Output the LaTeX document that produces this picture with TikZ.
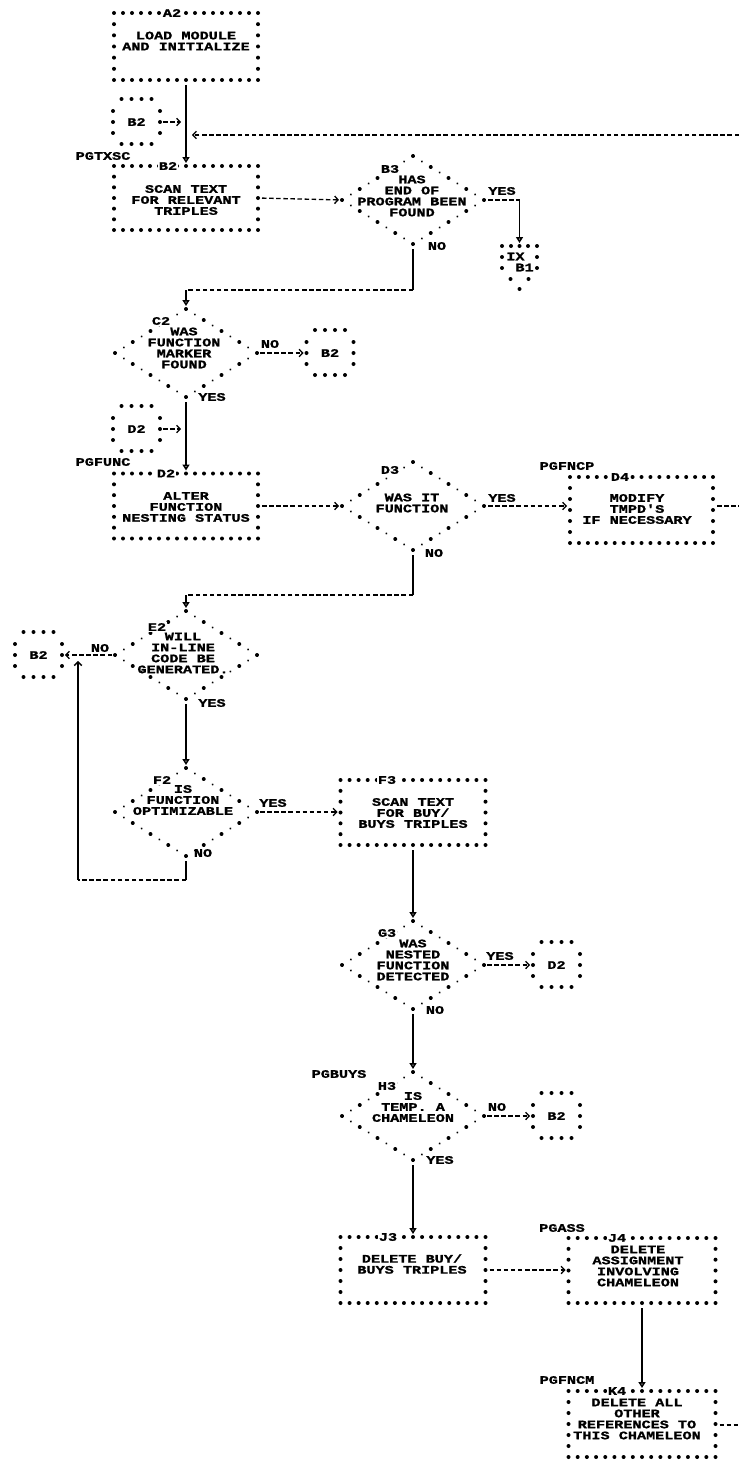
\documentclass[tikz,border=0pt]{standalone}
\usepackage{fontspec}
\newfontfamily\ibm[FakeStretch=1.32,BoldFeatures={FakeBold=1.3}]{Liberation Mono}
\usetikzlibrary{arrows.meta,shapes.geometric,decorations.markings}
\newcommand\dotbox[1]{%
 \path[bdots=0.0625] (#1.north west) -- (#1.north east);
 \path[bdots=0.16667] (#1.north east) -- (#1.south east);
 \path[bdots=0.0625] (#1.south east) -- (#1.south west);
 \path[bdots=0.16667] (#1.south west) -- (#1.north west);}
\newcommand\dotdiam[1]{%
 \path[ddots] (#1.north) -- (#1.east);
 \path[ddots] (#1.east) -- (#1.south);
 \path[ddots] (#1.south) -- (#1.west);
 \path[ddots] (#1.west) -- (#1.north);}
\newcommand\connbox[4]{%
 \node[conn] (#1) at (#2,#3) {#4};
 \foreach \dx in {-15,-5,5,15}{\fill (#1) ++(\dx,-23) circle (2pt); \fill (#1) ++(\dx,22) circle (2pt);}
 \foreach \dy in {-11,0,11}{\fill (#1) ++(-23.5,\dy) circle (2pt); \fill (#1) ++(23.5,\dy) circle (2pt);}}
\begin{document}
\begin{tikzpicture}[x=1pt,y=-1pt,
 txt/.style={font=\ibm\bfseries\fontsize{11.5}{11}\selectfont,align=center,inner sep=0pt},
 idl/.style={txt,fill=white,inner sep=1pt},
 didl/.style={txt,fill=white,inner sep=0.8pt},
 boxn/.style={rectangle,inner sep=0pt,outer sep=0pt,draw=none},
 dec/.style={diamond,inner sep=0pt,outer sep=0pt,minimum width=142pt,minimum height=88pt,draw=none},
 conn/.style={txt,circle,minimum size=47pt,inner sep=0pt,outer sep=0pt},
 sl/.style={line width=1.5pt},
 dl/.style={line width=1.3pt,dash pattern=on 4.5pt off 2.6pt},
 tipv/.style={-{Triangle[open,length=6pt,width=7pt]}},
 tipb/.style={-{Straight Barb[length=3.5pt,width=7.5pt]}},
 bdots/.style={decorate,decoration={markings,mark=between positions 0 and 0.99 step #1 with {\fill circle (2pt);}}},
 ddots/.style={decorate,decoration={markings,
   mark=between positions 0 and 0.99 step 0.25 with {\fill circle (2pt);},
   mark=between positions 0.125 and 0.99 step 0.25 with {\fill circle (1.1pt);}}}
]
\useasboundingbox (0,0) rectangle (739,1461);

% ---------- A2
\node[boxn,minimum width=144pt,minimum height=67pt] (A2) at (186,46.5) {};
\dotbox{A2}
\node[idl] (A2id) at (172,13) {A2};
\node[txt] (A2t) at (186,41) {LOAD MODULE\\AND INITIALIZE};

% ---------- B2 connector and box
\connbox{cB2a}{136.5}{122}{B2}
\node[txt] (pgtxsc) at (103,156) {PGTXSC};
\node[boxn,minimum width=144pt,minimum height=64pt] (B2) at (186,198) {};
\dotbox{B2}
\node[idl] (B2id) at (168,166) {B2};
\node[txt] (B2t) at (186,200) {SCAN TEXT\\FOR RELEVANT\\TRIPLES};

% ---------- B3
\node[dec] (B3) at (413,200) {};
\dotdiam{B3}
\node[didl] (B3id) at (390,169) {B3};
\node[txt] (B3t) at (412,196) {HAS\\END OF\\PROGRAM BEEN\\FOUND};
\node[txt] (B3y) at (502,191) {YES};
\node[txt] (B3n) at (437,246) {NO};

% ---------- IX B1 off-page connector
\node[boxn,minimum width=35pt,minimum height=43pt] (IX) at (519.5,267.5) {};
\foreach \xx in {502,511,519.5,528,537} \fill (\xx,246) circle (2pt);
\foreach \yy in {257,268} {\fill (502,\yy) circle (2pt); \fill (537,\yy) circle (2pt);}
\fill (510.5,279) circle (2pt); \fill (528.5,279) circle (2pt); \fill (519.5,289) circle (2pt);
\node[txt,align=left] (IXt) at (520,262) {IX\\\phantom{I}B1};

% ---------- C2
\node[dec] (C2) at (186,353) {};
\dotdiam{C2}
\node[didl] (C2id) at (161,321) {C2};
\node[txt] (C2t) at (184,348) {WAS\\FUNCTION\\MARKER\\FOUND};
\node[txt] (C2n) at (270,344) {NO};
\node[txt] (C2y) at (212,397) {YES};
\connbox{cB2b}{330}{353}{B2}

% ---------- D2
\connbox{cD2a}{136.5}{429}{D2}
\node[txt] (pgfunc) at (103,462) {PGFUNC};
\node[boxn,minimum width=144pt,minimum height=65pt] (D2) at (186,506) {};
\dotbox{D2}
\node[idl] (D2id) at (166,473.5) {D2};
\node[txt] (D2t) at (186,507) {ALTER\\FUNCTION\\NESTING STATUS};

% ---------- D3
\node[dec] (D3) at (413,506) {};
\dotdiam{D3}
\node[didl] (D3id) at (390,470) {D3};
\node[txt] (D3t) at (412,503) {WAS IT\\FUNCTION};
\node[txt] (D3y) at (502,498) {YES};
\node[txt] (D3n) at (434,553) {NO};

% ---------- D4
\node[txt] (pgfncp) at (567,466) {PGFNCP};
\node[boxn,minimum width=143pt,minimum height=66pt] (D4) at (641.5,510) {};
\dotbox{D4}
\node[idl] (D4id) at (620,477) {D4};
\node[txt] (D4t) at (637,509) {MODIFY\\TMPD'S\\IF NECESSARY};

% ---------- E2
\node[dec] (E2) at (186,655) {};
\dotdiam{E2}
\node[didl] (E2id) at (157,627) {E2};
\node[txt] (E2t) at (183,653) {WILL\\IN-LINE\\CODE BE\\GENERATED.};
\node[txt] (E2n) at (100,648) {NO};
\node[txt] (E2y) at (212,703) {YES};
\connbox{cB2c}{38.5}{655}{B2}

% ---------- F2
\node[dec] (F2) at (186,812) {};
\dotdiam{F2}
\node[didl] (F2id) at (162,780) {F2};
\node[txt] (F2t) at (183,800) {IS\\FUNCTION\\OPTIMIZABLE};
\node[txt] (F2y) at (273,803) {YES};
\node[txt] (F2n) at (203,853) {NO};

% ---------- F3
\node[boxn,minimum width=145pt,minimum height=65pt] (F3) at (413,812.5) {};
\dotbox{F3}
\node[idl] (F3id) at (387,780) {F3};
\node[txt] (F3t) at (413,813) {SCAN TEXT\\FOR BUY/\\BUYS TRIPLES};

% ---------- G3
\node[dec] (G3) at (413,965) {};
\dotdiam{G3}
\node[didl] (G3id) at (387,933) {G3};
\node[txt] (G3t) at (413,960) {WAS\\NESTED\\FUNCTION\\DETECTED};
\node[txt] (G3y) at (500,956) {YES};
\node[txt] (G3n) at (435,1010) {NO};
\connbox{cD2b}{556.5}{965}{D2}

% ---------- H3
\node[txt] (pgbuys) at (339,1074) {PGBUYS};
\node[dec] (H3) at (413,1116) {};
\dotdiam{H3}
\node[didl] (H3id) at (387,1086) {H3};
\node[txt] (H3t) at (413,1107) {IS\\TEMP. A\\CHAMELEON};
\node[txt] (H3n) at (497,1107) {NO};
\node[txt] (H3y) at (440,1160) {YES};
\connbox{cB2d}{556.5}{1116}{B2}

% ---------- J3, J4, K4
\node[boxn,minimum width=145pt,minimum height=66pt] (J3) at (413,1270) {};
\dotbox{J3}
\node[idl] (J3id) at (388,1237) {J3};
\node[txt] (J3t) at (412,1264) {DELETE BUY/\\BUYS TRIPLES};

\node[txt] (pgass) at (562,1228) {PGASS};
\node[boxn,minimum width=147pt,minimum height=65pt] (J4) at (642,1270.5) {};
\dotbox{J4}
\node[idl] (J4id) at (617,1238) {J4};
\node[txt] (J4t) at (638,1266) {DELETE\\ASSIGNMENT\\INVOLVING\\CHAMELEON};

\node[txt] (pgfncm) at (567,1380) {PGFNCM};
\node[boxn,minimum width=147pt,minimum height=66pt] (K4) at (642,1424) {};
\dotbox{K4}
\node[idl] (K4id) at (617,1391) {K4};
\node[txt] (K4t) at (637,1419) {DELETE ALL\\OTHER\\REFERENCES TO\\THIS CHAMELEON};

% ---------- coordinates
\coordinate (jA) at (B2.north |- cB2a.east);
\coordinate (eR1) at (739,135);
\coordinate (jR) at (B2.north |- eR1);
\coordinate (cY) at (B3.east -| IX.north);
\coordinate (c2a) at (413,290);
\coordinate (c2b) at (C2.north |- c2a);
\coordinate (jD) at (D2.north |- cD2a.east);
\coordinate (eR2) at (739,506);
\coordinate (c3a) at (413,595);
\coordinate (c3b) at (E2.north |- c3a);
\coordinate (c4a) at (186,880);
\coordinate (c4b) at (78,880);
\coordinate (c4c) at (c4b |- E2.west);
\coordinate (eR3) at (739,1425);

% ---------- connectors
\draw[sl,tipv,shorten <=5pt,shorten >=3pt] (A2.south) -- (B2.north);
\draw[dl,tipb,shorten <=3pt,shorten >=5pt] (cB2a.east) -- (jA);
\draw[dl,tipb,shorten >=6pt] (eR1) -- (jR);
\draw[dl,tipb,shorten <=4pt,shorten >=3pt] (B2.east) -- (B3.west);
\draw[dl,shorten <=4pt] (B3.east) -- (cY);
\draw[sl,tipv,shorten >=3pt] (cY) -- (IX.north);
\draw[sl,shorten <=5pt] (B3.south) -- (c2a);
\draw[dl] (c2a) -- (c2b);
\draw[sl,tipv,shorten >=3pt] (c2b) -- (C2.north);
\draw[dl,tipb,shorten <=3pt,shorten >=3pt] (C2.east) -- (cB2b.west);
\draw[sl,tipv,shorten <=5pt,shorten >=3pt] (C2.south) -- (D2.north);
\draw[dl,tipb,shorten <=3pt,shorten >=5pt] (cD2a.east) -- (jD);
\draw[dl,tipb,shorten <=4pt,shorten >=3pt] (D2.east) -- (D3.west);
\draw[dl,tipb,shorten <=4pt,shorten >=3pt] (D3.east) -- (D3.east -| D4.west);
\draw[dl,shorten <=4pt] (D4.east |- eR2) -- (eR2);
\draw[sl,shorten <=5pt] (D3.south) -- (c3a);
\draw[dl] (c3a) -- (c3b);
\draw[sl,tipv,shorten >=3pt] (c3b) -- (E2.north);
\draw[dl,tipb,shorten <=3pt,shorten >=3pt] (E2.west) -- (cB2c.east);
\draw[sl,tipv,shorten <=5pt,shorten >=3pt] (E2.south) -- (F2.north);
\draw[dl,tipb,shorten <=3pt,shorten >=3pt] (F2.east) -- (F2.east -| F3.west);
\draw[sl,shorten <=5pt] (F2.south) -- (c4a);
\draw[dl] (c4a) -- (c4b);
\draw[sl,tipb,shorten >=6pt] (c4b) -- (c4c);
\draw[sl,tipv,shorten <=5pt,shorten >=3pt] (F3.south) -- (G3.north);
\draw[dl,tipb,shorten <=3pt,shorten >=3pt] (G3.east) -- (cD2b.west);
\draw[sl,tipv,shorten <=5pt,shorten >=3pt] (G3.south) -- (H3.north);
\draw[dl,tipb,shorten <=3pt,shorten >=3pt] (H3.east) -- (cB2d.west);
\draw[sl,tipv,shorten <=5pt,shorten >=3pt] (H3.south) -- (J3.north);
\draw[dl,tipb,shorten <=4pt,shorten >=3pt] (J3.east) -- (J3.east -| J4.west);
\draw[sl,tipv,shorten <=5pt,shorten >=3pt] (J4.south) -- (K4.north);
\draw[dl,shorten <=4pt] (K4.east |- eR3) -- (eR3);
\end{tikzpicture}
\end{document}
